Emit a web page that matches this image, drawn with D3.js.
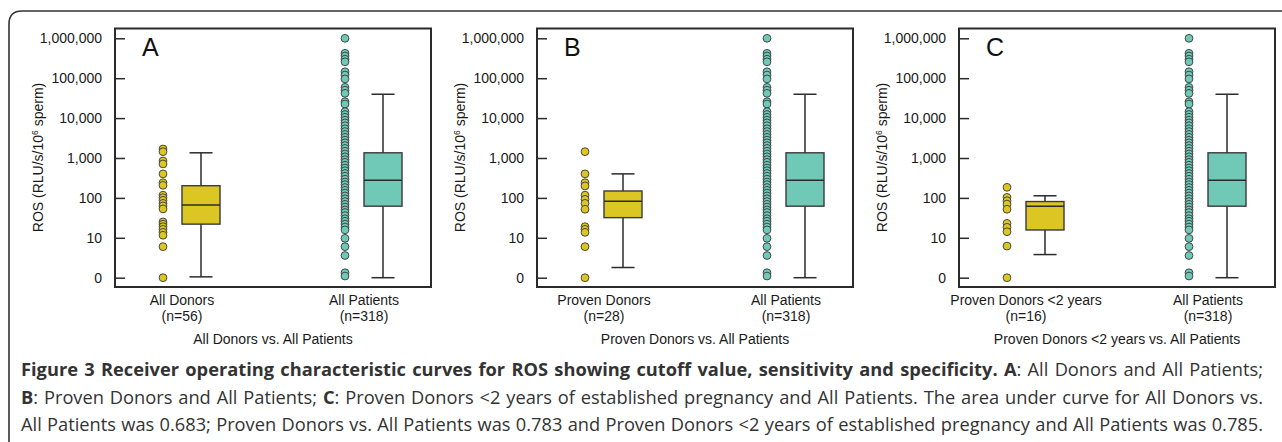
<!DOCTYPE html>
<html><head><meta charset="utf-8">
<script src="https://cdn.jsdelivr.net/npm/d3@7"></script>
<style>body{margin:0;background:#fff;} svg{display:block;}</style>
</head><body>
<svg id="chart" width="1282" height="442"></svg>
<script>
// ---------- data ----------
const panelLetters = ["A", "B", "C"];
const donorLabels = ["All Donors", "Proven Donors", "Proven Donors <2 years"];
const donorCounts = ["(n=56)", "(n=28)", "(n=16)"];
const patientLabel = "All Patients";
const patientCount = "(n=318)";
const comparisonTitles = ["All Donors vs. All Patients", "Proven Donors vs. All Patients", "Proven Donors <2 years vs. All Patients"];
const yTickValues = [1, 10, 100, 1000, 10000, 100000, 1000000];
const yTickLabels = ["0", "10", "100", "1,000", "10,000", "100,000", "1,000,000"];

// box stats: [lower whisker, Q1, median, Q3, upper whisker]
const allDonorsBox = [1.05, 22, 66, 202, 1350];
const provenDonorsBox = [1.8, 32, 82, 149, 400];
const provenDonors2yBox = [3.8, 15.7, 62, 81, 113];
const allPatientsBox = [1, 62, 276, 1350, 39600];

// individual points
const allDonorsPoints = [1680, 1440, 840, 710, 400, 240, 207, 117, 101, 87, 73, 63, 53, 25, 22, 19, 16.3, 13.7, 11.6, 6, 1];
const provenDonorsPoints = [1440, 400, 240, 200, 117, 92, 73, 52, 19, 16.3, 13.7, 6, 1];
const provenDonors2yPoints = [184, 103, 85, 70, 52, 23, 18.3, 14.2, 6.2, 1];
const allPatientsPoints = [1000000, 421000, 360000, 300000, 258000, 145000, 120000, 96000, 59000, 50000, 41700, 25700, 22500,
  14500, 12300, 10500, 8900, 7600, 6450, 5400, 4600, 3900, 3300, 2800, 2400, 2050, 1740, 1480, 1260, 1070, 910, 780, 660,
  560, 480, 410, 350, 295, 250, 215, 182, 155, 132, 112, 95, 81, 69, 59, 50, 43, 36, 30, 26, 22, 18.6, 15.8,
  9.7, 6, 3.6, 1.33, 1.1];

const donorBoxes = [allDonorsBox, provenDonorsBox, provenDonors2yBox];
const donorPoints = [allDonorsPoints, provenDonorsPoints, provenDonors2yPoints];

const captionLines = [
  [["Figure 3 Receiver operating characteristic curves for ROS showing cutoff value, sensitivity and specificity. ", true], ["A", true], [": All Donors and All Patients;", false]],
  [["B", true], [": Proven Donors and All Patients; ", false], ["C", true], [": Proven Donors <2 years of established pregnancy and All Patients. The area under curve for All Donors vs.", false]],
  [["All Patients was 0.683; Proven Donors vs. All Patients was 0.783 and Proven Donors <2 years of established pregnancy and All Patients was 0.785.", false]]
];

// ---------- drawing ----------
const donorColor = "#dcc624";
const patientColor = "#70c9b6";
const ink = "#2b2b2b";
const font = "'Liberation Sans', Arial, Helvetica, sans-serif";
const fsz = 14;

const svg = d3.select("#chart");

// outer rounded frame
svg.append("path")
  .attr("d", "M9,450 L9,24 Q9,11 22,11 L1290,11")
  .attr("fill", "none").attr("stroke", "#333").attr("stroke-width", 1.6);

const panelW = 316, panelH = 258.5, panelTop = 28.5;
const panelX = d3.scalePoint().domain([0, 1, 2]).range([115, 959]);
const y = d3.scaleLog().domain([1, 1e6]).range([249.2, 9.8]);
const xCat = d3.scalePoint().domain(["donor", "patient"]).range([67, 249]);
const off = 19, boxW = 38, capW = 23, r = 3.9;

panelLetters.forEach((letter, i) => {
  const g = svg.append("g").attr("transform", `translate(${panelX(i)},${panelTop})`);

  const axis = d3.axisLeft(y).tickValues(yTickValues)
    .tickFormat((d, k) => yTickLabels[k]).tickSizeInner(-10).tickSizeOuter(0).tickPadding(13);
  const ag = g.append("g").call(axis);
  ag.select(".domain").remove();
  ag.selectAll(".tick line").attr("stroke", ink).attr("stroke-width", 1.5);
  ag.selectAll(".tick text").attr("font-family", font).attr("font-size", fsz).attr("fill", "#1a1a1a");

  g.append("rect").attr("x", 0).attr("y", 0).attr("width", panelW).attr("height", panelH)
    .attr("fill", "none").attr("stroke", ink).attr("stroke-width", 2);

  g.append("text").attr("x", 27).attr("y", 27.5).text(letter)
    .attr("font-family", font).attr("font-size", 25).attr("fill", "#111");

  const yt = g.append("text").attr("transform", "translate(-72,129) rotate(-90)")
    .attr("text-anchor", "middle").attr("font-family", font).attr("font-size", fsz).attr("fill", "#1a1a1a");
  yt.append("tspan").text("ROS (RLU/s/10");
  yt.append("tspan").text("6").attr("font-size", 8.5).attr("baseline-shift", "55%");
  yt.append("tspan").text(" sperm)");

  const groups = [
    { key: "donor", pts: donorPoints[i], box: donorBoxes[i], color: donorColor, label: donorLabels[i], n: donorCounts[i] },
    { key: "patient", pts: allPatientsPoints, box: allPatientsBox, color: patientColor, label: patientLabel, n: patientCount }
  ];

  groups.forEach(gr => {
    const cx = xCat(gr.key);
    const bx = cx + off;
    const [lo, q1, med, q3, hi] = gr.box;
    g.append("line").attr("x1", bx).attr("x2", bx).attr("y1", y(hi)).attr("y2", y(lo))
      .attr("stroke", ink).attr("stroke-width", 1.5);
    [hi, lo].forEach(v => g.append("line").attr("x1", bx - capW / 2).attr("x2", bx + capW / 2)
      .attr("y1", y(v)).attr("y2", y(v)).attr("stroke", ink).attr("stroke-width", 1.5));
    g.append("rect").attr("x", bx - boxW / 2).attr("y", y(q3)).attr("width", boxW).attr("height", y(q1) - y(q3))
      .attr("fill", gr.color).attr("stroke", "#3a3a3a").attr("stroke-width", 1.4);
    g.append("line").attr("x1", bx - boxW / 2).attr("x2", bx + boxW / 2).attr("y1", y(med)).attr("y2", y(med))
      .attr("stroke", ink).attr("stroke-width", 1.5);
    g.append("g").selectAll("circle").data(gr.pts).join("circle")
      .attr("cx", cx - off).attr("cy", d => y(d)).attr("r", r)
      .attr("fill", gr.color).attr("stroke", "#3a3a3a").attr("stroke-width", 0.9);
    g.append("text").attr("x", cx).attr("y", 276.5).attr("text-anchor", "middle").text(gr.label)
      .attr("font-family", font).attr("font-size", fsz).attr("fill", "#1a1a1a");
    g.append("text").attr("x", cx).attr("y", 292.5).attr("text-anchor", "middle").text(gr.n)
      .attr("font-family", font).attr("font-size", fsz).attr("fill", "#1a1a1a");
  });

  g.append("text").attr("x", panelW / 2).attr("y", 315.5).attr("text-anchor", "middle").text(comparisonTitles[i])
    .attr("font-family", font).attr("font-size", fsz).attr("fill", "#1a1a1a");
});

// caption, justified
const capFont = "'Open Sans', Lato, sans-serif";
const capLeft = 21, capRight = 1263, capBase = [376, 404, 431];
const capTexts = captionLines.map((segs, li) => {
  const t = svg.append("text").attr("x", capLeft).attr("y", capBase[li])
    .attr("font-family", capFont).attr("fill", "#333").attr("font-size", 16);
  segs.forEach(([s, b]) => t.append("tspan").text(s).attr("font-weight", b ? "bold" : "normal"));
  return t;
});
const widths = capTexts.map(t => t.node().getComputedTextLength());
const wMax = Math.max(...widths);
const fs = 16 * (capRight - capLeft) / wMax * 0.99;
capTexts.forEach((t, li) => {
  t.attr("font-size", fs);
  const w = t.node().getComputedTextLength();
  const full = captionLines[li].map(s => s[0]).join("");
  const spaces = (full.match(/ /g) || []).length;
  t.attr("word-spacing", Math.max(0, (capRight - capLeft - w) / spaces));
});
</script>
</body></html>
